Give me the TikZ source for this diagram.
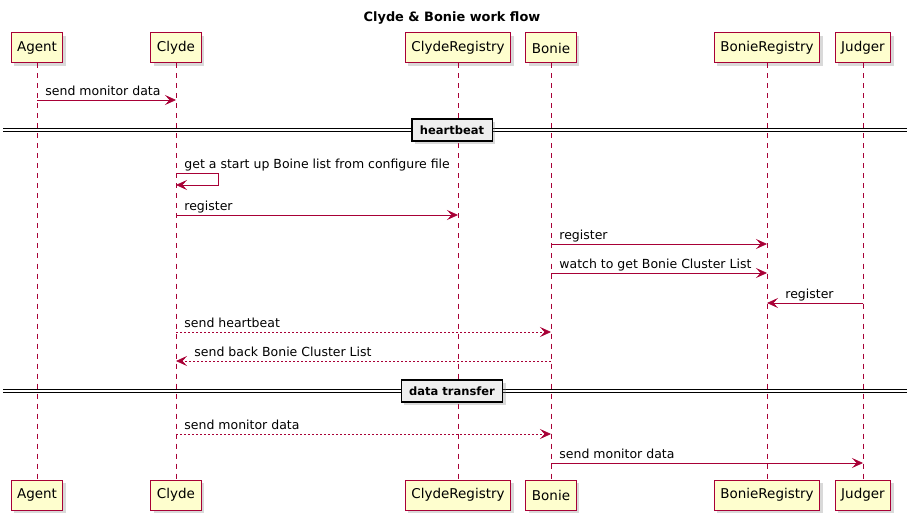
\documentclass[tikz,border=0pt]{standalone}
\usepackage{fontspec}
\setmainfont{DejaVu Sans}
\usetikzlibrary{arrows.meta}
\usetikzlibrary{shadows}
\definecolor{wine}{RGB}{168,0,54}
\definecolor{cream}{RGB}{254,254,206}
\definecolor{pale}{RGB}{238,238,238}

\begin{document}
\begin{tikzpicture}[x=1pt,y=-1pt,
  part/.style={draw=wine,fill=cream,line width=1pt,minimum height=30pt,inner xsep=6pt,
    font=\fontsize{13.5}{16}\selectfont,
    drop shadow={shadow xshift=3pt,shadow yshift=-3pt,opacity=.3,fill=gray,draw=none}},
  life/.style={wine,line width=.8pt,dash pattern=on 5pt off 5pt},
  msg/.style={wine,line width=.8pt,-{Stealth[length=11pt,width=10pt,inset=4.5pt]}},
  back/.style={msg,dash pattern=on 2pt off 2pt},
  lbl/.style={black,anchor=base west,inner sep=0pt,yshift=4.5pt,font=\fontsize{12.5}{15}\selectfont},
  divbox/.style={draw=black,fill=pale,line width=1.2pt,minimum height=22pt,inner xsep=8pt,
    font=\bfseries\fontsize{11.5}{14}\selectfont,
    drop shadow={shadow xshift=3pt,shadow yshift=-3pt,opacity=.3,fill=gray,draw=none}},
  divline/.style={double,double distance=2.2pt,line width=.8pt}]
\useasboundingbox (0,0) rectangle (912,521);
% title
\node[font=\bfseries\fontsize{12.9}{15}\selectfont] (title) at (452,18) {Clyde \& Bonie work flow};
% participants, top row
\node[part] (agentT) at (37,48) {Agent};
\node[part] (clydeT) at (176,48) {Clyde};
\node[part] (cregT) at (458,48) {ClydeRegistry};
\node[part] (bonieT) at (551,48) {Bonie};
\node[part] (bregT) at (767,48) {BonieRegistry};
\node[part] (judgerT) at (863,48) {Judger};
% participants, bottom row
\node[part] (agentB) at (37,495) {Agent};
\node[part] (clydeB) at (176,495) {Clyde};
\node[part] (cregB) at (458,495) {ClydeRegistry};
\node[part] (bonieB) at (551,495) {Bonie};
\node[part] (bregB) at (767,495) {BonieRegistry};
\node[part] (judgerB) at (863,495) {Judger};
% lifelines
\draw[life] (agentT) -- (agentB);
\draw[life] (clydeT) -- (clydeB);
\draw[life] (cregT) -- (cregB);
\draw[life] (bonieT) -- (bonieB);
\draw[life] (bregT) -- (bregB);
\draw[life] (judgerT) -- (judgerB);

\draw[msg] (agentT |- 0,100) -- node[lbl,at start,xshift=8pt]{send monitor data} (clydeT |- 0,100);

% heartbeat
\draw[divline] (3,130) -- (907,130);
\node[divbox] (hb) at (452,130) {heartbeat};

\draw[msg] (clydeT |- 0,173) -- node[lbl,at start,xshift=8pt]{get a start up Boine list from configure file}
  ++(42,0) -- ++(0,12) -- (clydeT |- 0,185);
\draw[msg] (clydeT |- 0,215) -- node[lbl,at start,xshift=8pt]{register} (cregT |- 0,215);
\draw[msg] (bonieT |- 0,244) -- node[lbl,at start,xshift=8pt]{register} (bregT |- 0,244);
\draw[msg] (bonieT |- 0,273) -- node[lbl,at start,xshift=8pt]{watch to get Bonie Cluster List} (bregT |- 0,273);
\draw[msg] (judgerT |- 0,303) -- node[lbl,at end,xshift=18pt]{register} (bregT |- 0,303);
\draw[back] (clydeT |- 0,332) -- node[lbl,at start,xshift=8pt]{send heartbeat} (bonieT |- 0,332);
\draw[back] (bonieT |- 0,361) -- node[lbl,at end,xshift=18pt]{send back Bonie Cluster List} (clydeT |- 0,361);

% data transfer
\draw[divline] (3,391) -- (907,391);
\node[divbox] (dt) at (452,391) {data transfer};

\draw[back] (clydeT |- 0,434) -- node[lbl,at start,xshift=8pt]{send monitor data} (bonieT |- 0,434);
\draw[msg] (bonieT |- 0,463) -- node[lbl,at start,xshift=8pt]{send monitor data} (judgerT |- 0,463);
\end{tikzpicture}
\end{document}
